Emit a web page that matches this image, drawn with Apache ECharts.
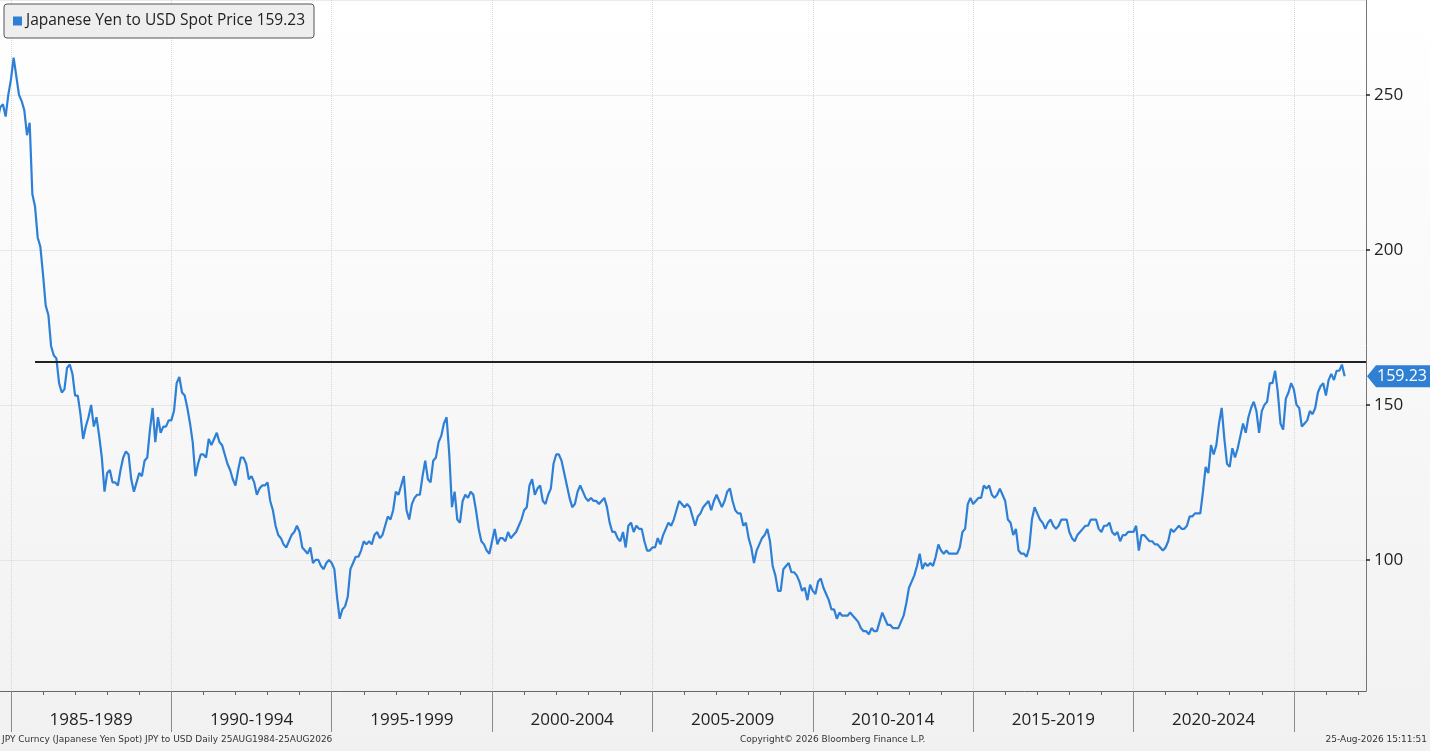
<!DOCTYPE html>
<html>
<head>
<meta charset="utf-8">
<title>Japanese Yen to USD Spot Price</title>
<script src="https://cdn.jsdelivr.net/npm/echarts@6.0.0/dist/echarts.min.js"></script>
<style>
    html, body { margin: 0; padding: 0; background: #fff; }
    #chart { width: 1430px; height: 751px; }
</style>
</head>
<body>
<div id="chart"></div>
<script>
// monthly values, Aug 1984 .. Aug 2026
var startYear = 1984, startMonth = 8;
var jpy1980s = [
    242, 246, 247, 243, 250,
    255, 262, 256, 250, 248, 245, 237, 241, 218, 214, 204, 201,
    192, 182, 179, 169, 166, 165, 157, 154, 155, 162, 163, 160,
    153, 153, 147, 139, 143, 146, 150, 143, 146, 140, 133, 122,
    128, 129, 125, 125, 124, 129, 133, 135, 134, 126, 122, 125,
    128, 127, 132, 133, 142, 149, 138, 146, 141, 143, 143, 145
];
var jpy1990s = [
    145, 148, 157, 159, 154, 153, 149, 144, 138, 127, 131, 134,
    134, 133, 139, 137, 139, 141, 138, 137, 134, 131, 129, 126,
    124, 129, 133, 133, 131, 126, 127, 125, 121, 123, 124, 124,
    125, 119, 116, 111, 108, 107, 105, 104, 106, 108, 109, 111,
    109, 104, 103, 102, 104, 99, 100, 100, 98, 97, 99, 100,
    99, 97, 88, 81, 84, 85, 88, 97, 99, 101, 101, 103,
    106, 105, 106, 105, 108, 109, 107, 108, 111, 114, 113, 116,
    122, 121, 124, 127, 116, 113, 118, 120, 121, 121, 127, 132,
    126, 125, 132, 133, 138, 140, 144, 146, 134, 117, 122, 113,
    112, 119, 121, 120, 122, 121, 116, 110, 106, 105, 103, 102
];
var jpy2000s = [
    106, 110, 105, 107, 107, 106, 109, 107, 108, 109, 111, 113,
    116, 117, 124, 126, 121, 123, 124, 119, 118, 121, 123, 131,
    134, 134, 132, 128, 124, 120, 117, 118, 122, 124, 122, 120,
    119, 120, 119, 119, 118, 119, 120, 117, 112, 109, 109, 107,
    106, 109, 104, 111, 112, 109, 111, 110, 110, 106, 103, 103,
    104, 104, 107, 105, 108, 110, 112, 111, 113, 116, 119, 118,
    117, 118, 117, 114, 111, 114, 115, 117, 118, 119, 116, 119,
    121, 119, 117, 119, 122, 123, 119, 116, 115, 115, 111, 112,
    107, 104, 99, 103, 105, 107, 108, 110, 106, 98, 95, 90,
    90, 97, 98, 99, 96, 96, 95, 93, 90, 91, 87, 92
];
var jpy2010s = [
    90, 89, 93, 94, 91, 89, 87, 84, 84, 81, 83, 82,
    82, 82, 83, 82, 81, 80, 78, 77, 77, 76, 78, 77,
    77, 80, 83, 81, 79, 79, 78, 78, 78, 80, 82, 86,
    91, 93, 95, 98, 102, 97, 99, 98, 99, 98, 101, 105,
    103, 102, 103, 102, 102, 102, 102, 104, 109, 110, 118, 120,
    118, 119, 120, 120, 124, 123, 124, 121, 120, 121, 123, 121,
    119, 113, 112, 108, 110, 103, 102, 102, 101, 104, 113, 117,
    115, 113, 112, 110, 112, 113, 111, 110, 111, 113, 113, 113,
    109, 107, 106, 108, 109, 110, 111, 111, 113, 113, 113, 110,
    109, 111, 111, 112, 109, 108, 109, 106, 108, 108, 109, 109
];
var jpy2020s = [
    109, 111, 103, 108, 108, 107, 106, 106, 105, 105, 104, 103,
    104, 106, 110, 109, 110, 111, 110, 110, 111, 114, 114, 115,
    115, 115, 122, 130, 128, 137, 134, 137, 144, 149, 139, 131,
    130, 136, 133, 136, 140, 144, 141, 146, 149, 151, 148, 141,
    148, 150, 151, 157, 157, 161, 154, 144, 142, 152, 154, 157,
    155, 150, 149, 143, 144, 145, 148, 147, 149, 154, 156, 157,
    153, 158, 160, 158, 161, 161, 163, 159.23
];
var lastPrice = 159.23;
var levelLine = 164;
var levelFrom = '1985-10';
var axisEndMonth = '2027-04';
var seriesName = 'Japanese Yen to USD Spot Price';

var values = [].concat(jpy1980s, jpy1990s, jpy2000s, jpy2010s, jpy2020s);

var months = [];
(function () {
    var y = startYear, m = startMonth;
    while (true) {
        var key = y + '-' + (m < 10 ? '0' + m : m);
        months.push(key);
        if (key === axisEndMonth) break;
        m++;
        if (m > 12) { m = 1; y++; }
    }
})();

function yearOf(v) { return +v.slice(0, 4); }
function monthOf(v) { return +v.slice(5, 7); }

var chart = echarts.init(document.getElementById('chart'));

var option = {
    animation: false,
    backgroundColor: new echarts.graphic.LinearGradient(0, 0, 0, 1, [
        { offset: 0, color: '#ffffff' },
        { offset: 1, color: '#f1f1f1' }
    ]),
    textStyle: { fontFamily: '"Open Sans", sans-serif' },
    title: [{
        text: 'JPY Curncy (Japanese Yen Spot) JPY to USD Daily 25AUG1984-25AUG2026',
        left: 2, top: 735, padding: 0,
        textStyle: { fontSize: 9, fontWeight: 'normal', color: '#333', fontFamily: 'DejaVu Sans' }
    }, {
        text: 'Copyright\u00a9 2026 Bloomberg Finance L.P.',
        left: 740, top: 735, padding: 0,
        textStyle: { fontSize: 9, fontWeight: 'normal', color: '#333', fontFamily: 'DejaVu Sans' }
    }, {
        text: '25-Aug-2026 15:11:51',
        right: 3, top: 735, padding: 0,
        textStyle: { fontSize: 9, fontWeight: 'normal', color: '#333', fontFamily: 'DejaVu Sans' }
    }],
    legend: {
        left: 4, top: 4,
        padding: [9, 9, 9, 9],
        icon: 'rect',
        itemWidth: 9, itemHeight: 9,
        backgroundColor: '#eeeeee',
        borderColor: '#555',
        borderWidth: 1,
        borderRadius: 3,
        selectedMode: false,
        textStyle: { fontSize: 15.5, color: '#222', padding: [0, 0, 0, -1] },
        formatter: function (name) { return name + ' ' + lastPrice.toFixed(2); },
        data: [seriesName]
    },
    grid: {
        left: -2.4, right: 64, top: 0, bottom: 60,
        outerBoundsMode: 'none'
    },
    xAxis: [{
        type: 'category',
        data: months,
        boundaryGap: false,
        axisLine: { lineStyle: { color: '#666', width: 1 } },
        axisTick: {
            length: 4,
            lineStyle: { color: '#666' },
            interval: function (i, v) { return monthOf(v) === 1; }
        },
        axisLabel: {
            margin: 21,
            fontSize: 17,
            color: '#222',
            interval: function (i, v) { return monthOf(v) === 7 && yearOf(v) % 5 === 2; },
            formatter: function (v) { var y = yearOf(v); return (y - 2) + '-' + (y + 2); }
        },
        splitLine: {
            show: true,
            interval: function (i, v) { return monthOf(v) === 1 && yearOf(v) % 5 === 0; },
            lineStyle: { color: '#d6d6d6', type: 'dotted', width: 1 }
        }
    }, {
        type: 'category',
        data: months,
        boundaryGap: false,
        position: 'bottom',
        axisLine: { show: false },
        axisTick: {
            length: 41,
            lineStyle: { color: '#8a8a8a' },
            interval: function (i, v) { return monthOf(v) === 1 && yearOf(v) % 5 === 0; }
        },
        axisLabel: { show: false },
        splitLine: { show: false }
    }],
    yAxis: {
        type: 'value',
        position: 'right',
        min: 57.7,
        max: 280.6,
        splitNumber: 5,
        axisLine: { show: true, lineStyle: { color: '#777', width: 1 } },
        axisTick: { show: true, length: 4, lineStyle: { color: '#222', width: 1.5 } },
        axisLabel: {
            margin: 8, fontSize: 17, color: '#222',
            showMinLabel: false, showMaxLabel: false
        },
        splitLine: { lineStyle: { color: '#d6d6d6', type: 'dotted', width: 1 } }
    },
    series: [{
        name: seriesName,
        type: 'line',
        data: values,
        showSymbol: false,
        symbol: 'none',
        color: '#2e7fd6',
        lineStyle: { width: 2.2, color: '#2e7fd6' },
        markLine: {
            silent: true,
            symbol: ['none', 'none'],
            label: { show: false },
            lineStyle: { color: '#222', width: 2, type: 'solid' },
            data: [[
                { coord: [levelFrom, levelLine] },
                { coord: [months[months.length - 1], levelLine] }
            ]]
        }
    }]
};

chart.setOption(option);

// last price tag on the right axis
var py = chart.convertToPixel({ yAxisIndex: 0 }, lastPrice);
chart.setOption({
    graphic: [{
        type: 'polygon',
        shape: { points: [[1367, py], [1376, py - 11], [1430, py - 11], [1430, py + 11], [1376, py + 11]] },
        style: { fill: '#2f7fd3' }
    }, {
        type: 'text',
        x: 1377, y: py,
        style: {
            text: lastPrice.toFixed(2),
            fill: '#fff',
            font: '16px "Open Sans"',
            verticalAlign: 'middle'
        }
    }]
});
</script>
</body>
</html>
